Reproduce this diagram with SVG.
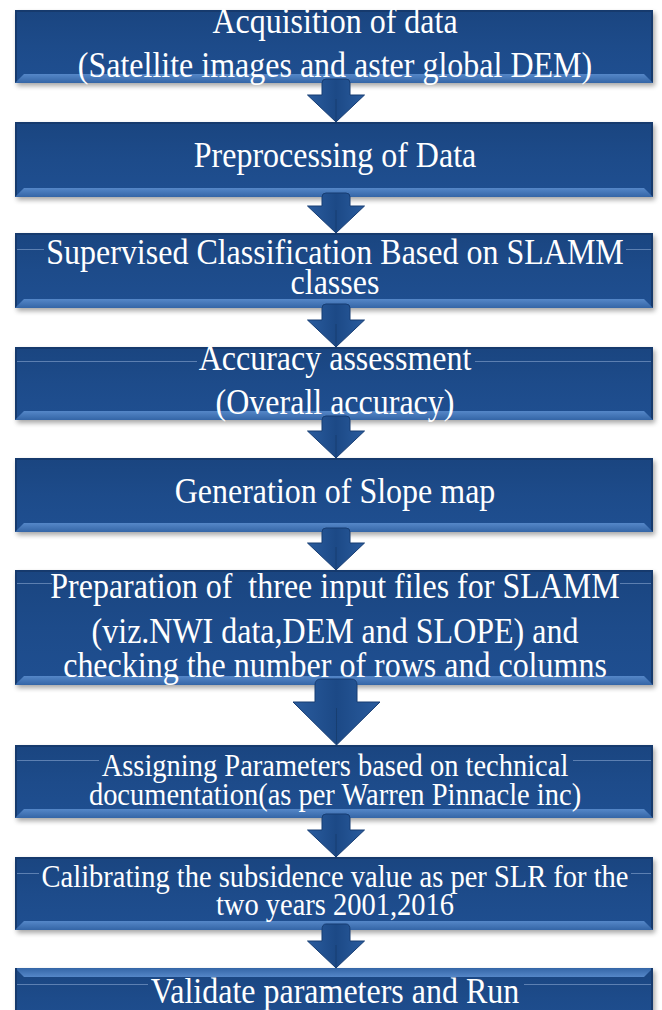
<svg xmlns="http://www.w3.org/2000/svg" width="662" height="1010" viewBox="0 0 662 1010">
<defs>
<filter id="blur" x="-5%" y="-20%" width="110%" height="150%"><feGaussianBlur stdDeviation="2.5"/></filter>
<linearGradient id="boxGrad" x1="0" y1="0" x2="0" y2="1">
<stop offset="0" stop-color="#1A4580"/><stop offset="0.5" stop-color="#1D4B8A"/><stop offset="1" stop-color="#1F4F91"/>
</linearGradient>
<linearGradient id="bevB" x1="0" y1="0" x2="0" y2="1">
<stop offset="0" stop-color="#5587C8"/><stop offset="1" stop-color="#3465A6"/>
</linearGradient>
<linearGradient id="bevT" x1="0" y1="0" x2="0" y2="1">
<stop offset="0" stop-color="#3465A6"/><stop offset="1" stop-color="#5587C8"/>
</linearGradient>
<linearGradient id="arrGrad" x1="0" y1="0" x2="1" y2="0">
<stop offset="0" stop-color="#2A5C9E"/><stop offset="0.5" stop-color="#1C4986"/><stop offset="1" stop-color="#2A5C9E"/>
</linearGradient>
<style>
.sh{fill:#000;opacity:.35}
.bx{fill:url(#boxGrad)}
.bb{fill:url(#bevB)}
.bt{fill:url(#bevT)}
.edge{fill:#163A6D}
.lbl{font-family:"Liberation Serif","Times New Roman",serif;font-size:32px;fill:#fff;text-anchor:middle}
.sm{font-size:28.5px}
.rule{stroke:#9DB8DF;stroke-width:1;opacity:.5}
.arr{fill:url(#arrGrad);stroke:#173D73;stroke-width:1}
.ridge{fill:none;stroke:#143764;stroke-width:1;opacity:.6}
</style>
</defs>

<g id="node1">
<rect class="sh" x="17" y="13" width="638" height="73" filter="url(#blur)"/>
<rect class="bx" x="15" y="10" width="638" height="73"/>
<rect class="edge" x="15" y="10" width="638" height="2"/>
<rect class="edge" x="15" y="10" width="2" height="73"/>
<rect class="edge" x="651" y="10" width="2" height="73"/>
<polygon class="bb" points="15,83 653,83 644,74 24,74"/>
<text class="lbl" transform="matrix(1,0,0,1.1,335,33)">Acquisition of data</text>
<text class="lbl" transform="matrix(1,0,0,1.1,335,77)">(Satellite images and aster global DEM)</text>
</g>

<g id="node2">
<rect class="sh" x="17" y="125" width="638" height="75" filter="url(#blur)"/>
<rect class="bx" x="15" y="122" width="638" height="75"/>
<rect class="edge" x="15" y="122" width="638" height="2"/>
<rect class="edge" x="15" y="122" width="2" height="75"/>
<rect class="edge" x="651" y="122" width="2" height="75"/>
<polygon class="bb" points="15,197 653,197 644,188 24,188"/>
<text class="lbl" transform="matrix(1,0,0,1.1,335,167)">Preprocessing of Data</text>
</g>

<g id="node3">
<rect class="sh" x="17" y="236" width="638" height="75" filter="url(#blur)"/>
<rect class="bx" x="15" y="233" width="638" height="75"/>
<rect class="edge" x="15" y="233" width="638" height="2"/>
<rect class="edge" x="15" y="233" width="2" height="75"/>
<rect class="edge" x="651" y="233" width="2" height="75"/>
<polygon class="bb" points="15,308 653,308 644,299 24,299"/>
<line class="rule" x1="17" y1="249.5" x2="44" y2="249.5"/>
<line class="rule" x1="626" y1="249.5" x2="651" y2="249.5"/>
<text class="lbl" transform="matrix(1,0,0,1.1,335,264)">Supervised Classification Based on SLAMM</text>
<text class="lbl" transform="matrix(1,0,0,1.1,335,294)">classes</text>
</g>

<g id="node4">
<rect class="sh" x="17" y="350" width="638" height="73" filter="url(#blur)"/>
<rect class="bx" x="15" y="347" width="638" height="73"/>
<rect class="edge" x="15" y="347" width="638" height="2"/>
<rect class="edge" x="15" y="347" width="2" height="73"/>
<rect class="edge" x="651" y="347" width="2" height="73"/>
<polygon class="bb" points="15,420 653,420 644,411 24,411"/>
<line class="rule" x1="17" y1="361.5" x2="197" y2="361.5"/>
<line class="rule" x1="475" y1="361.5" x2="651" y2="361.5"/>
<text class="lbl" transform="matrix(1,0,0,1.1,335,370)">Accuracy assessment</text>
<text class="lbl" transform="matrix(1,0,0,1.1,335,414)">(Overall accuracy)</text>
</g>

<g id="node5">
<rect class="sh" x="17" y="461" width="638" height="74" filter="url(#blur)"/>
<rect class="bx" x="15" y="458" width="638" height="74"/>
<rect class="edge" x="15" y="458" width="638" height="2"/>
<rect class="edge" x="15" y="458" width="2" height="74"/>
<rect class="edge" x="651" y="458" width="2" height="74"/>
<polygon class="bb" points="15,532 653,532 644,523 24,523"/>
<text class="lbl" transform="matrix(1,0,0,1.1,335,503)">Generation of Slope map</text>
</g>

<g id="node6">
<rect class="sh" x="17" y="573" width="638" height="115" filter="url(#blur)"/>
<rect class="bx" x="15" y="570" width="638" height="115"/>
<rect class="edge" x="15" y="570" width="638" height="2"/>
<rect class="edge" x="15" y="570" width="2" height="115"/>
<rect class="edge" x="651" y="570" width="2" height="115"/>
<polygon class="bb" points="15,685 653,685 644,676 24,676"/>
<line class="rule" x1="17" y1="583.5" x2="52" y2="583.5"/>
<line class="rule" x1="620" y1="583.5" x2="651" y2="583.5"/>
<text class="lbl" transform="matrix(1,0,0,1.1,335,598)" xml:space="preserve">Preparation of  three input files for SLAMM</text>
<text class="lbl" transform="matrix(1,0,0,1.1,335,643)">(viz.NWI data,DEM and SLOPE) and</text>
<text class="lbl" transform="matrix(1,0,0,1.1,335,677)">checking the number of rows and columns</text>
</g>

<g id="node7">
<rect class="sh" x="17" y="748" width="638" height="73" filter="url(#blur)"/>
<rect class="bx" x="15" y="745" width="638" height="73"/>
<rect class="edge" x="15" y="745" width="638" height="2"/>
<rect class="edge" x="15" y="745" width="2" height="73"/>
<rect class="edge" x="651" y="745" width="2" height="73"/>
<polygon class="bb" points="15,818 653,818 644,809 24,809"/>
<line class="rule" x1="17" y1="760.5" x2="99" y2="760.5"/>
<line class="rule" x1="573" y1="760.5" x2="651" y2="760.5"/>
<text class="lbl sm" transform="matrix(1,0,0,1.1,335,776)">Assigning Parameters based on technical</text>
<text class="lbl sm" transform="matrix(1,0,0,1.1,335,805)">documentation(as per Warren Pinnacle inc)</text>
</g>

<g id="node8">
<rect class="sh" x="17" y="860" width="638" height="73" filter="url(#blur)"/>
<rect class="bx" x="15" y="857" width="638" height="73"/>
<rect class="edge" x="15" y="857" width="638" height="2"/>
<rect class="edge" x="15" y="857" width="2" height="73"/>
<rect class="edge" x="651" y="857" width="2" height="73"/>
<polygon class="bb" points="15,930 653,930 644,921 24,921"/>
<line class="rule" x1="17" y1="873.5" x2="39" y2="873.5"/>
<line class="rule" x1="631" y1="873.5" x2="651" y2="873.5"/>
<text class="lbl sm" transform="matrix(1,0,0,1.1,335,887)">Calibrating the subsidence value as per SLR for the</text>
<text class="lbl sm" transform="matrix(1,0,0,1.1,335,915)">two years 2001,2016</text>
</g>

<g id="node9">
<rect class="sh" x="17" y="971" width="638" height="60" filter="url(#blur)"/>
<rect class="bx" x="15" y="968" width="638" height="60"/>
<polygon class="bt" points="15,968 653,968 644,977 24,977"/>
<rect class="edge" x="15" y="968" width="2" height="60"/>
<rect class="edge" x="651" y="968" width="2" height="60"/>
<line class="rule" x1="17" y1="984.5" x2="148" y2="984.5"/>
<line class="rule" x1="524" y1="984.5" x2="651" y2="984.5"/>
<text class="lbl" transform="matrix(1,0,0,1.1,335,1003)">Validate parameters and Run</text>
</g>

<g id="connectors">
<path class="arr" d="M322,83 Q322,79 326,79 L346,79 Q350,79 350,83 L350,95 L364.5,95 L336,122 L307.5,95 L322,95 Z"/>
<path class="ridge" d="M336,122 L336,99"/>
<path class="arr" d="M322,197 Q322,193 326,193 L346,193 Q350,193 350,197 L350,206 L364.5,206 L336,233 L307.5,206 L322,206 Z"/>
<path class="ridge" d="M336,233 L336,210"/>
<path class="arr" d="M322,308 Q322,304 326,304 L346,304 Q350,304 350,308 L350,320 L364.5,320 L336,347 L307.5,320 L322,320 Z"/>
<path class="ridge" d="M336,347 L336,324"/>
<path class="arr" d="M322,420 Q322,416 326,416 L346,416 Q350,416 350,420 L350,431 L364.5,431 L336,458 L307.5,431 L322,431 Z"/>
<path class="ridge" d="M336,458 L336,435"/>
<path class="arr" d="M322,532 Q322,528 326,528 L346,528 Q350,528 350,532 L350,543 L364.5,543 L336,570 L307.5,543 L322,543 Z"/>
<path class="ridge" d="M336,570 L336,547"/>
<path class="arr" d="M315,685 Q315,679 321,679 L351,679 Q357,679 357,685 L357,702 L380,702 L336.5,745 L293,702 L315,702 Z"/>
<path class="ridge" d="M336.5,745 L336.5,708"/>
<path class="arr" d="M322,818 Q322,814 326,814 L346,814 Q350,814 350,818 L350,830 L364.5,830 L336,857 L307.5,830 L322,830 Z"/>
<path class="ridge" d="M336,857 L336,834"/>
<path class="arr" d="M322,930 Q322,924 326,924 L346,924 Q350,924 350,930 L350,941 L364.5,941 L336,968 L307.5,941 L322,941 Z"/>
<path class="ridge" d="M336,968 L336,945"/>
</g>
</svg>
